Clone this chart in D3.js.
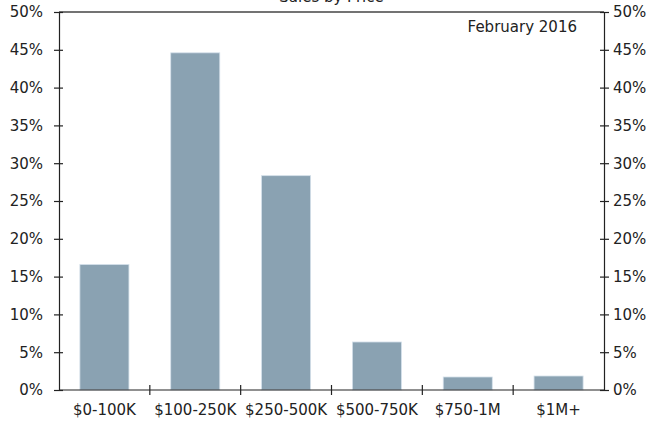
<!DOCTYPE html>
<html>
<head>
<meta charset="utf-8">
<script src="https://cdn.jsdelivr.net/npm/d3@7"></script>
<style>
  html, body { margin: 0; padding: 0; background: #fff; }
  svg { display: block; }
  text { font-family: "DejaVu Sans", Verdana, sans-serif; fill: #222; }
</style>
</head>
<body>
<svg id="chart" width="654" height="421"></svg>
<script>
// Share of sales by price bracket
const categories = ["$0-100K", "$100-250K", "$250-500K", "$500-750K", "$750-1M", "$1M+"];
const shares = [16.6, 44.6, 28.35, 6.35, 1.72, 1.85];
const yTicks = [0, 5, 10, 15, 20, 25, 30, 35, 40, 45, 50];
const titleText = "Sales by Price";
const periodLabel = "February 2016";

const W = 654, H = 421;
const margin = { left: 59, right: 50, top: 12, bottom: 31 };
const innerW = W - margin.left - margin.right;
const innerH = H - margin.top - margin.bottom;

const svg = d3.select("#chart");
const g = svg.append("g").attr("transform", `translate(${margin.left},${margin.top})`);

const x = d3.scaleBand().domain(categories).range([0, innerW]).paddingInner(0.46).paddingOuter(0.23);
const xb = d3.scaleBand().domain(categories).range([0, innerW]);
const y = d3.scaleLinear().domain([0, 50]).range([innerH, 0]);

// title (sits above the frame)
svg.append("text")
  .attr("x", margin.left + innerW / 2).attr("y", 2)
  .attr("text-anchor", "middle").style("font-size", "15px")
  .text(titleText);

// bars
g.selectAll("rect.bar").data(shares).join("rect")
  .attr("class", "bar")
  .attr("x", (d, i) => x(categories[i]))
  .attr("width", x.bandwidth())
  .attr("y", d => y(d))
  .attr("height", d => y(0) - y(d))
  .attr("fill", "#8aa2b2")
  .attr("stroke", "#d4e0ea")
  .attr("stroke-width", 0.8);

const lineColor = "#222";

// frame: top line
g.append("line").attr("x1", 0).attr("x2", innerW).attr("y1", 0).attr("y2", 0)
  .attr("stroke", "#444").attr("stroke-width", 1.5);

// left axis
const yLeft = d3.axisLeft(y).tickValues(yTicks).tickFormat(d => d + "%").tickSize(0).tickPadding(16);
const gl = g.append("g").call(yLeft);
gl.select(".domain").attr("stroke", lineColor).attr("stroke-width", 1.2);
gl.selectAll(".tick text").style("font-size", "15px").attr("fill", "#222");
gl.selectAll(".tick").append("line").attr("x1", -5).attr("x2", 4).attr("stroke", lineColor).attr("stroke-width", 1.2);

// right axis
const yRight = d3.axisRight(y).tickValues(yTicks).tickFormat(d => d + "%").tickSize(0).tickPadding(9);
const gr = g.append("g").attr("transform", `translate(${innerW},0)`).call(yRight);
gr.select(".domain").attr("stroke", lineColor).attr("stroke-width", 1.2);
gr.selectAll(".tick text").style("font-size", "15px").attr("fill", "#222");
gr.selectAll(".tick").append("line").attr("x1", -4).attr("x2", 5).attr("stroke", lineColor).attr("stroke-width", 1.2);

// bottom axis with ticks at band boundaries
const gb = g.append("g").attr("transform", `translate(0,${innerH})`);
gb.append("line").attr("x1", 0).attr("x2", innerW).attr("stroke", lineColor).attr("stroke-width", 1.2);
gb.selectAll("line.sep").data(categories.slice(1)).join("line")
  .attr("class", "sep")
  .attr("x1", d => xb(d)).attr("x2", d => xb(d))
  .attr("y1", -5).attr("y2", 5)
  .attr("stroke", lineColor).attr("stroke-width", 1.2);
gb.selectAll("text.cat").data(categories).join("text")
  .attr("class", "cat")
  .attr("x", d => xb(d) + xb.bandwidth() / 2)
  .attr("y", 25)
  .attr("text-anchor", "middle")
  .style("font-size", "15px")
  .text(d => d);

// period label
g.append("text")
  .attr("x", innerW - 27).attr("y", 20)
  .attr("text-anchor", "end").style("font-size", "15px")
  .text(periodLabel);
</script>
</body>
</html>
